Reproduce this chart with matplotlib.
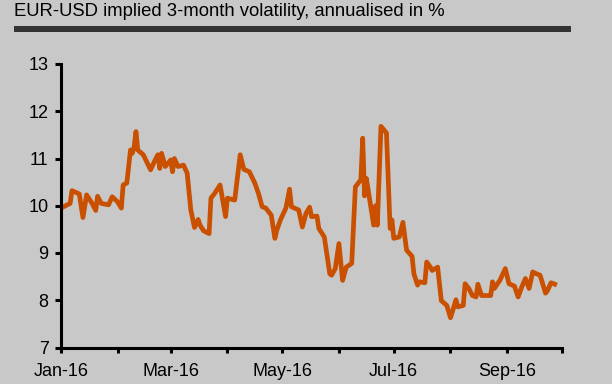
import matplotlib
matplotlib.use('Agg')
import matplotlib.pyplot as plt
import matplotlib.dates as mdates
from matplotlib.patches import Rectangle
import pandas as pd

plt.rcParams['font.family'] = ['Liberation Sans', 'DejaVu Sans']

title = 'EUR-USD implied 3-month volatility, annualised in %'

# values (approximate turning points)
dates = ['2016-01-01', '2016-01-06', '2016-01-07', '2016-01-11', '2016-01-13', '2016-01-15',
         '2016-01-18', '2016-01-20', '2016-01-21', '2016-01-23', '2016-01-27', '2016-01-29',
         '2016-02-01', '2016-02-03', '2016-02-04', '2016-02-06', '2016-02-08', '2016-02-09',
         '2016-02-10', '2016-02-11', '2016-02-12', '2016-02-15', '2016-02-19', '2016-02-21',
         '2016-02-23', '2016-02-24', '2016-02-25', '2016-02-27', '2016-03-01', '2016-03-02',
         '2016-03-03', '2016-03-05', '2016-03-08', '2016-03-10', '2016-03-12', '2016-03-14',
         '2016-03-16', '2016-03-17', '2016-03-19', '2016-03-22', '2016-03-23', '2016-03-25',
         '2016-03-28', '2016-03-31', '2016-04-01', '2016-04-05', '2016-04-08', '2016-04-10',
         '2016-04-13', '2016-04-16', '2016-04-18', '2016-04-20', '2016-04-22', '2016-04-25',
         '2016-04-27', '2016-04-28', '2016-04-30', '2016-05-03', '2016-05-05', '2016-05-06',
         '2016-05-10', '2016-05-12', '2016-05-14', '2016-05-16', '2016-05-17', '2016-05-20',
         '2016-05-21', '2016-05-24', '2016-05-27', '2016-05-28', '2016-05-30', '2016-06-01',
         '2016-06-03', '2016-06-05', '2016-06-08', '2016-06-10', '2016-06-13', '2016-06-14',
         '2016-06-15', '2016-06-16', '2016-06-20', '2016-06-21', '2016-06-22', '2016-06-24',
         '2016-06-27', '2016-06-29', '2016-06-30', '2016-07-01', '2016-07-04', '2016-07-06',
         '2016-07-08', '2016-07-11', '2016-07-12', '2016-07-14', '2016-07-15', '2016-07-18',
         '2016-07-19', '2016-07-21', '2016-07-22', '2016-07-25', '2016-07-27', '2016-07-30',
         '2016-08-01', '2016-08-02', '2016-08-04', '2016-08-05', '2016-08-08', '2016-08-09',
         '2016-08-11', '2016-08-13', '2016-08-15', '2016-08-16', '2016-08-18', '2016-08-21',
         '2016-08-23', '2016-08-24', '2016-08-25', '2016-08-28', '2016-08-31', '2016-09-02',
         '2016-09-05', '2016-09-07', '2016-09-09', '2016-09-11', '2016-09-13', '2016-09-15',
         '2016-09-17', '2016-09-19', '2016-09-22', '2016-09-23', '2016-09-25', '2016-09-27']

vol = [9.95, 10.05, 10.32, 10.25, 9.75, 10.23,
       10.05, 9.90, 10.20, 10.05, 10.02, 10.19,
       10.08, 9.95, 10.44, 10.48, 11.18, 11.11,
       11.25, 11.57, 11.18, 11.08, 10.76, 10.93,
       11.08, 10.79, 11.11, 10.83, 10.97, 10.72,
       11.00, 10.83, 10.86, 10.69, 9.91, 9.54,
       9.71, 9.59, 9.47, 9.41, 10.16, 10.26,
       10.44, 9.77, 10.16, 10.12, 11.08, 10.77,
       10.72, 10.48, 10.26, 9.98, 9.95, 9.80,
       9.31, 9.48, 9.70, 9.95, 10.35, 9.98,
       9.91, 9.55, 9.84, 9.97, 9.77, 9.78,
       9.52, 9.34, 8.56, 8.53, 8.67, 9.20,
       8.42, 8.70, 8.78, 10.40, 10.55, 11.43,
       10.21, 10.58, 9.59, 10.00, 9.59, 11.68,
       11.54, 9.52, 9.70, 9.31, 9.34, 9.65,
       9.06, 8.93, 8.56, 8.32, 8.39, 8.37,
       8.81, 8.70, 8.63, 8.70, 7.99, 7.89,
       7.63, 7.75, 8.01, 7.86, 7.89, 8.35,
       8.25, 8.10, 8.07, 8.34, 8.10, 8.10,
       8.10, 8.39, 8.25, 8.42, 8.67, 8.35,
       8.30, 8.07, 8.28, 8.46, 8.25, 8.60,
       8.56, 8.53, 8.15, 8.20, 8.37, 8.34]

yticks = [7, 8, 9, 10, 11, 12, 13]

bg = '#c8c8c8'
fig = plt.figure(figsize=(6.12, 3.84), dpi=100, facecolor=bg)
ax = fig.add_axes([61 / 612, 1 - 347.5 / 384, 501 / 612, 283.5 / 384])
ax.set_facecolor(bg)

ax.plot(pd.to_datetime(dates), vol, color='#c85000', lw=3.4, solid_joinstyle='round')

ax.set_ylim(7, 13)
ax.set_yticks(yticks)
ax.set_xlim(pd.Timestamp('2016-01-01'), pd.Timestamp('2016-10-01'))
ax.xaxis.set_major_locator(mdates.MonthLocator(bymonth=[1, 3, 5, 7, 9]))
ax.xaxis.set_minor_locator(mdates.MonthLocator())
ax.xaxis.set_major_formatter(mdates.DateFormatter('%b-%y'))

for s in ['top', 'right']:
    ax.spines[s].set_visible(False)
for s in ['left', 'bottom']:
    ax.spines[s].set_linewidth(2.2)
    ax.spines[s].set_color('black')

ax.tick_params(axis='y', which='major', length=4, width=2.2, pad=5, labelsize=13)
ax.tick_params(axis='x', which='both', length=3.5, width=2.2, pad=8, labelsize=13)

fig.text(14 / 612, 1 - 15.5 / 384, title, fontsize=13.3, va='baseline', ha='left', color='black')
fig.patches.append(Rectangle((14 / 612, 1 - 32 / 384), 557 / 612, 6 / 384,
                             transform=fig.transFigure, facecolor='#333333', edgecolor='none'))

fig.savefig('out.png', dpi=100, facecolor=bg)
